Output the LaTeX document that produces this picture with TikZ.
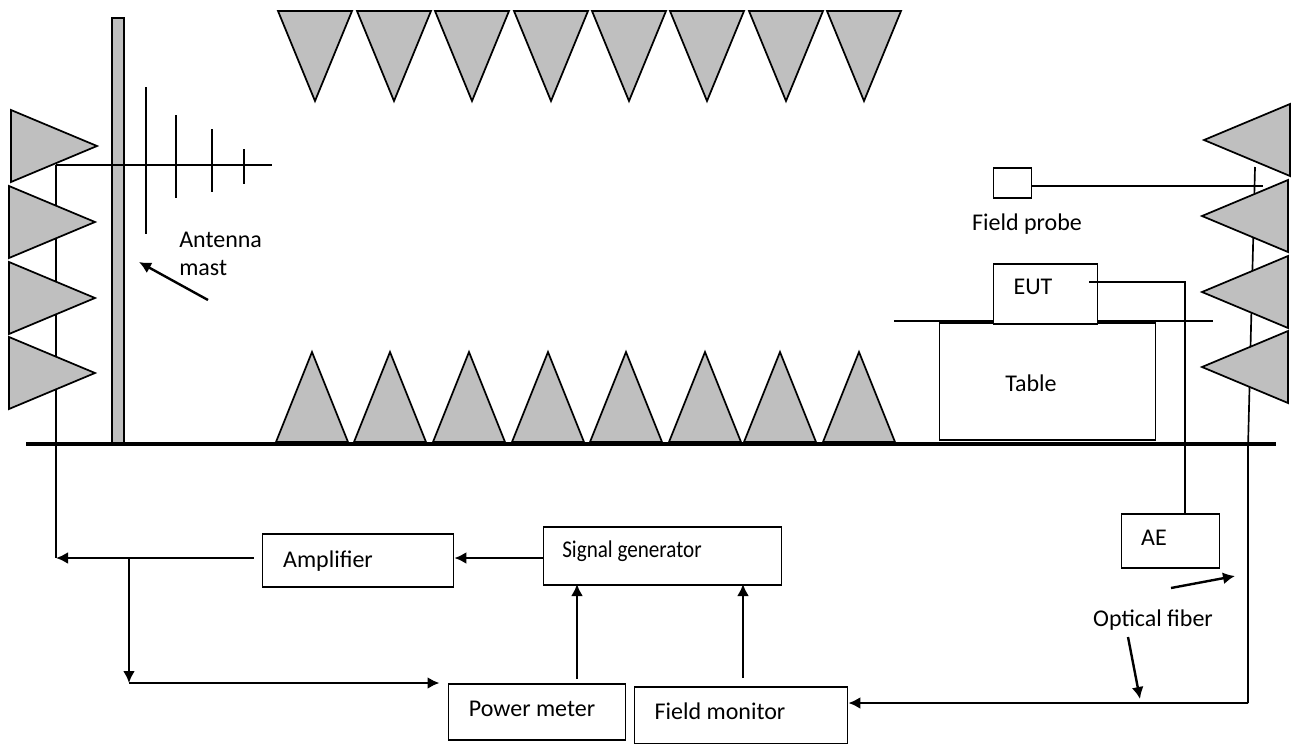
\documentclass[tikz,border=0pt]{standalone}
\usepackage{fontspec}
\setmainfont{Carlito}
\usetikzlibrary{arrows.meta}
\tikzset{
    absorber/.style={draw=black, fill=black!25, line width=1.3pt, line join=miter},
    box/.style={draw=black, fill=white, line width=1.4pt, inner sep=0pt, anchor=north west},
    wire/.style={draw=black, line width=1.25pt},
    feed/.style={draw=black, line width=1.8pt, -{Latex[length=9pt,width=9pt]}},
    caption/.style={font=\fontsize{18}{21}\selectfont, inner sep=0pt, align=left}
}
\begin{document}
\begin{tikzpicture}[x=0.75pt,y=-0.75pt]
    \useasboundingbox (0,0) rectangle (1292,743);

    % Coordinates for the free ends of the lines
    \coordinate (feedend) at (56,165);
    \coordinate (boomend) at (272,165);
    \coordinate (feedbend) at (56,558);
    \coordinate (split) at (129,558);
    \coordinate (splitend) at (129,683);
    \coordinate (fibertop) at (1255,167);
    \coordinate (fiberfloor) at (1248,448);
    \coordinate (fiberbend) at (1248,703);
    \coordinate (probeend) at (1263,186);
    \coordinate (eutport) at (1089,282);

    % Feed line and antenna, behind the absorbers
    \draw[wire] (feedend) -- (feedbend);
    \draw[wire] (fibertop) -- (fiberfloor) -- (fiberbend);

    % Mast and antenna elements
    \node[box, fill=black!25, minimum width=12*0.75pt, minimum height=425*0.75pt] (mast) at (111,17) {};
    \draw[wire] (feedend) -- (boomend);
    \foreach \x/\a/\b in {146/87/234, 176/115/198, 212/129/192, 244/149/184} {
        \draw[wire] (\x,\a) -- (\x,\b);
    }

    % Top row of absorbers
    \foreach \x in {278, 357, 435, 514, 592, 670, 749, 827} {
        \draw[absorber] (\x,11) -- (\x+74,11) -- (\x+37,101) -- cycle;
    }

    % Bottom row of absorbers
    \foreach \x in {276, 354, 433, 512, 590, 669, 744, 823} {
        \draw[absorber] (\x,442) -- (\x+36,352) -- (\x+72,442) -- cycle;
    }

    % Left and right absorbers
    \foreach \x/\y in {11/110, 9/186, 9/262, 9/337} {
        \draw[absorber] (\x,\y) -- (\x+86,\y+36) -- (\x,\y+72) -- cycle;
    }
    \foreach \x/\y in {1290/104, 1288/180, 1288/256, 1288/331} {
        \draw[absorber] (\x,\y) -- (\x-86,\y+36) -- (\x,\y+72) -- cycle;
    }

    % Floor
    \draw[draw=black, line width=2.7pt] (26,444) -- (1276,444);

    % Table, EUT and probe
    \draw[wire] (894,321) -- (1213,321);
    \node[box, minimum width=216*0.75pt, minimum height=117*0.75pt] (table) at (938.5,322) {};
    \node[box, minimum width=104*0.75pt, minimum height=60*0.75pt] (eut) at (992.5,263) {};
    \node[box, minimum width=38*0.75pt, minimum height=30*0.75pt] (probe) at (992.5,167) {};
    \node[box, minimum width=98*0.75pt, minimum height=54*0.75pt] (ae) at (1120.5,513) {};
    \draw[wire] (probe.east |- probeend) -- (probeend);
    \draw[wire] (eutport) -| (ae.north -| 1185,0);

    % Instruments
    \node[box, minimum width=191*0.75pt, minimum height=53*0.75pt] (amp) at (261.5,533) {};
    \node[box, minimum width=238*0.75pt, minimum height=58*0.75pt] (siggen) at (542.5,526) {};
    \node[box, minimum width=177*0.75pt, minimum height=56*0.75pt] (meter) at (447.5,683) {};
    \node[box, minimum width=213*0.75pt, minimum height=57*0.75pt] (monitor) at (633.5,686) {};

    % Connections between the instruments
    \draw[feed] (siggen.west |- feedbend) -- (amp.east |- feedbend);
    \draw[feed, shorten <=6pt] (amp.west |- feedbend) -- (feedbend);
    \draw[feed] (split) -- (splitend);
    \draw[feed] (splitend) -- ([xshift=-6pt]splitend -| meter.west);
    \draw[feed, shorten <=3pt] (577,683) -- (577,584);
    \draw[feed, shorten <=6pt] (743,686) -- (743,584);
    \draw[feed] (fiberbend) -- (fiberbend -| monitor.east);

    % Pointers from the labels
    \draw[feed] (208,300) -- (139,262);
    \draw[feed] (1171,588) -- (1235,576);
    \draw[feed] (1128,637) -- (1140,699);

    % Labels
    \node[caption, anchor=west] (mastlabel) at (179,254) {Antenna\\mast};
    \node[caption] (probelabel) at (1027,224) {Field probe};
    \node[caption] (eutlabel) at (1033,287) {EUT};
    \node[caption] (tablelabel) at (1031,383) {Table};
    \node[caption] (aelabel) at (1154,538) {AE};
    \node[caption] (fiberlabel) at (1153,620) {Optical fiber};
    \node[caption] (amplabel) at (328,561) {Amplifier};
    \node[caption] (genlabel) at (632,551) {\scalebox{0.88}[1]{Signal generator}};
    \node[caption] (meterlabel) at (532,709) {Power meter};
    \node[caption] (monitorlabel) at (720,711) {Field monitor};
\end{tikzpicture}
\end{document}
